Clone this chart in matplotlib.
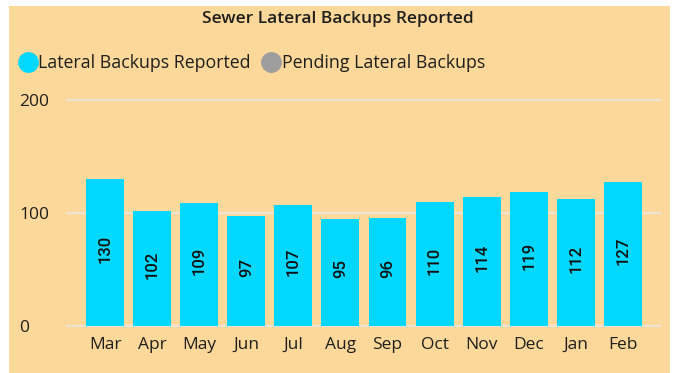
import matplotlib
matplotlib.use("Agg")
import matplotlib.pyplot as plt
from matplotlib.patches import Rectangle
from matplotlib.lines import Line2D

months = ["Mar", "Apr", "May", "Jun", "Jul", "Aug", "Sep", "Oct", "Nov", "Dec", "Jan", "Feb"]
reported = [130, 102, 109, 97, 107, 95, 96, 110, 114, 119, 112, 127]
y_ticks = [0, 100, 200]
series_names = ["Lateral Backups Reported", "Pending Lateral Backups"]

BG = "#FDD89B"
BAR = "#00D8FF"
PENDING = "#9E9E9E"
GRID = "#EDE4D6"
TEXT = "#1E1E1E"

plt.rcParams["font.family"] = ["Open Sans", "DejaVu Sans"]

fig = plt.figure(figsize=(6.73, 3.73), dpi=100)
fig.patch.set_facecolor("white")
fig.add_artist(Rectangle((9 / 673, 0), (670 - 9) / 673, 1 - 6 / 373,
                         transform=fig.transFigure, facecolor=BG,
                         edgecolor="none", zorder=-10))

ax = fig.add_axes([67 / 673, 1 - 326 / 373, (660 - 67) / 673, (326 - 100) / 373])
ax.set_facecolor("none")

x = list(range(len(months)))
bars = ax.bar(x, reported, width=0.807, color=BAR, zorder=3)

for i, v in zip(x, reported):
    ax.text(i, v / 2 + 3, str(v), rotation=90, ha="center", va="center",
            fontsize=12, color="#111111", family=["Roboto", "DejaVu Sans"],
            fontweight="medium", zorder=4)

ax.set_xlim(-0.81, 11.79)
ax.set_ylim(0, 200)
for t in y_ticks:
    ax.axhline(t, color=GRID, lw=1.6, zorder=1, clip_on=False)

ax.set_xticks(x)
ax.set_xticklabels(months, fontsize=12.5, color=TEXT)
ax.set_yticks(y_ticks)
ax.set_yticklabels([str(t) for t in y_ticks], fontsize=12.5, color=TEXT)
ax.tick_params(axis="both", length=0)
ax.tick_params(axis="x", pad=8)
ax.tick_params(axis="y", pad=0)
for lbl in ax.get_yticklabels():
    lbl.set_horizontalalignment("left")
    lbl.set_x(-48 / 593)
for s in ax.spines.values():
    s.set_visible(False)

fig.text(338 / 673, 1 - 19 / 373, "Sewer Lateral Backups Reported",
         ha="center", va="center", fontsize=12.5, fontweight="semibold",
         color=TEXT, family=["Open Sans", "DejaVu Sans"])

handles = [Line2D([], [], marker="o", ls="none", markersize=14, color=BAR),
           Line2D([], [], marker="o", ls="none", markersize=14, color=PENDING)]
fig.legend(handles, series_names, loc="center left",
           bbox_to_anchor=(17 / 673, 1 - 63 / 373), ncol=2, frameon=False,
           fontsize=12.8, handletextpad=0.0, columnspacing=0.55,
           handlelength=1.2, labelcolor=TEXT, borderaxespad=0, borderpad=0)

fig.savefig("out.png", dpi=100, facecolor=fig.get_facecolor())
